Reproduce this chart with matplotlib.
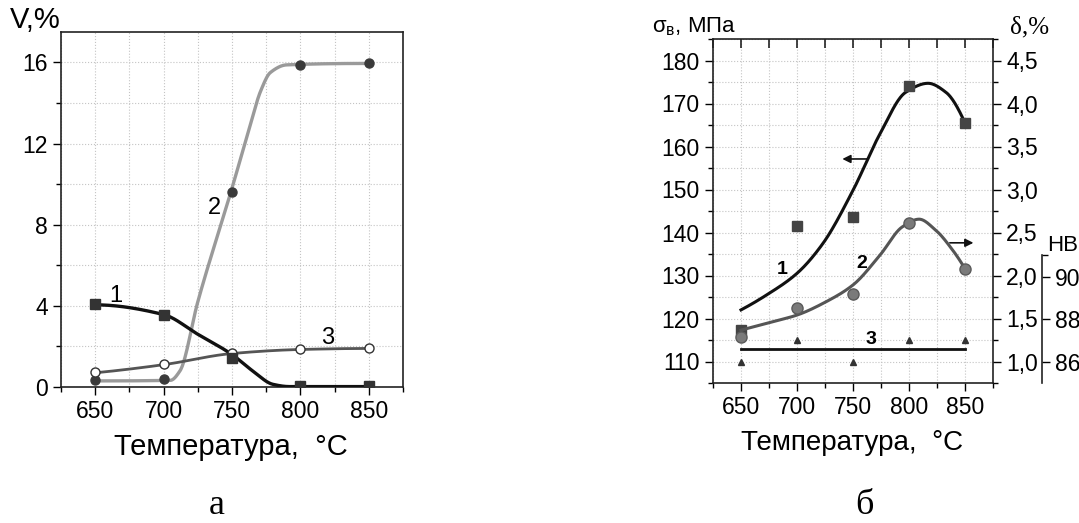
import numpy as np
import matplotlib
matplotlib.use("Agg")
from matplotlib import pyplot as plt
from matplotlib.ticker import MultipleLocator, FuncFormatter

plt.rcParams['font.family'] = ['Liberation Sans', 'DejaVu Sans']

## data
temp = [650, 700, 750, 800, 850]

# panel a: phase volume, %
v1_pts = [4.1, 3.55, 1.45, 0.05, 0.05]
v2_pts = [0.35, 0.4, 9.6, 15.85, 15.95]
v3_pts = [0.75, 1.15, 1.7, 1.85, 1.9]

# drawn curves of panel a (knots)
v1_curve_t = [650, 700, 725, 750, 765, 780, 792, 850]
v1_curve = [4.05, 3.57, 2.6, 1.6, 0.8, 0.13, 0.02, 0.02]
v2_curve_t = [650, 705, 712, 725, 750, 762, 771, 778, 790, 850]
v2_curve = [0.3, 0.33, 0.8, 4.2, 9.8, 12.6, 14.6, 15.5, 15.88, 15.95]
v3_curve_t = [650, 700, 750, 800, 850]
v3_curve = [0.7, 1.1, 1.65, 1.85, 1.9]

# panel b: strength (MPa), elongation (%), hardness HB
sigma_pts = [117.3, 141.5, 143.5, 174.1, 165.4]
delta_pts = [1.29, 1.62, 1.78, 2.605, 2.08]
hb_pts = [86, 87, 86, 87, 87]
hb_line = 86.6

sigma_curve_t = [650, 673, 700, 723, 750, 774, 797, 817, 833, 850]
sigma_curve = [122, 125.5, 130.5, 137.4, 149.8, 162.9, 172.6, 174.7, 172.6, 165.5]
delta_curve_t = [650, 679, 700, 726, 750, 774, 794, 809, 824, 839, 850]
delta_curve = [1.365, 1.465, 1.54, 1.695, 1.89, 2.235, 2.565, 2.655, 2.525, 2.295, 2.08]


def pchip(x, y, xs):
    # monotone cubic hermite, only used to draw the smooth lines
    x = np.asarray(x, float)
    y = np.asarray(y, float)
    h = np.diff(x)
    d = np.diff(y) / h
    m = np.zeros_like(y)
    for k in range(1, len(x) - 1):
        if d[k - 1] * d[k] > 0:
            w1 = 2 * h[k] + h[k - 1]
            w2 = h[k] + 2 * h[k - 1]
            m[k] = (w1 + w2) / (w1 / d[k - 1] + w2 / d[k])
    m[0] = d[0] if len(d) < 2 else ((2 * h[0] + h[1]) * d[0] - h[0] * d[1]) / (h[0] + h[1])
    if np.sign(m[0]) != np.sign(d[0]):
        m[0] = 0
    m[-1] = d[-1] if len(d) < 2 else ((2 * h[-1] + h[-2]) * d[-1] - h[-1] * d[-2]) / (h[-1] + h[-2])
    if np.sign(m[-1]) != np.sign(d[-1]):
        m[-1] = 0
    idx = np.clip(np.searchsorted(x, xs) - 1, 0, len(x) - 2)
    t = (xs - x[idx]) / h[idx]
    h00 = 2 * t**3 - 3 * t**2 + 1
    h10 = t**3 - 2 * t**2 + t
    h01 = -2 * t**3 + 3 * t**2
    h11 = t**3 - t**2
    return h00 * y[idx] + h10 * h[idx] * m[idx] + h01 * y[idx + 1] + h11 * h[idx] * m[idx + 1]


def comma(v, pos):
    return f"{v:.1f}".replace(".", ",")


W, H = 1079, 523
fig = plt.figure(figsize=(W / 100, H / 100), dpi=100)
grid_kw = dict(color='#c4c4c4', linestyle=':', linewidth=0.8)
tick_fs = 16.5

# ---- panel a ----
ax = fig.add_axes([61 / W, 1 - 387 / H, 342 / W, 355 / H])
ax.set_xlim(625, 875)
ax.set_ylim(0, 17.5)
ax.xaxis.set_major_locator(MultipleLocator(50))
ax.xaxis.set_minor_locator(MultipleLocator(25))
ax.yaxis.set_major_locator(MultipleLocator(4))
ax.yaxis.set_minor_locator(MultipleLocator(2))
ax.grid(True, which='both', **grid_kw)
ax.set_axisbelow(True)
ax.tick_params(which='both', direction='out', top=False, right=False, labelsize=tick_fs, width=1)
ax.tick_params(which='major', length=6)
ax.tick_params(which='minor', length=3.5)
for s in ax.spines.values():
    s.set_linewidth(1.2)
    s.set_color('#222222')

xs = np.linspace(650, 850, 400)
ax.plot(xs, pchip(v2_curve_t, v2_curve, xs), color='#9a9a9a', lw=2.4, zorder=3)
ax.plot(xs, pchip(v3_curve_t, v3_curve, xs), color='#555555', lw=2, zorder=3)
ax.plot(xs, pchip(v1_curve_t, v1_curve, xs), color='#111111', lw=2.4, zorder=4)
ax.plot(temp, v2_pts, 'o', color='#3a3a3a', ms=6.5, zorder=5)
ax.plot(temp, v3_pts, 'o', mfc='white', mec='#333333', mew=1, ms=6.5, zorder=5)
ax.plot(temp, v1_pts, 's', color='#333333', ms=6.5, zorder=6)

ax.text(665, 4.5, "1", fontsize=17, ha='center', va='center')
ax.text(737, 8.8, "2", fontsize=17, ha='center', va='center')
ax.text(820, 2.42, "3", fontsize=17, ha='center', va='center')

fig.text(10 / W, 1 - 20 / H, "V,%", fontsize=21, ha='left', va='center')
fig.text(231 / W, 1 - 447 / H, "Температура,  °C", fontsize=21, ha='center', va='center')
fig.text(217 / W, 1 - 506 / H, "а", fontsize=26, ha='center', va='center',
         family=['Liberation Serif', 'DejaVu Serif'])

# ---- panel b ----
bx = fig.add_axes([713 / W, 1 - 383 / H, 280 / W, 344 / H])
bx.set_xlim(625, 875)
bx.set_ylim(105, 185)
bx.xaxis.set_major_locator(MultipleLocator(50))
bx.xaxis.set_minor_locator(MultipleLocator(25))
bx.yaxis.set_major_locator(MultipleLocator(10))
bx.yaxis.set_minor_locator(MultipleLocator(5))
bx.grid(True, which='both', **grid_kw)
bx.set_axisbelow(True)
bx.tick_params(which='both', direction='out', right=False, top=False, labelsize=tick_fs, width=1)
bx.tick_params(which='major', length=6)
bx.tick_params(which='minor', length=3.5)
for s in bx.spines.values():
    s.set_linewidth(1.2)
    s.set_color('#222222')

# top ticks point inward
bt = bx.twiny()
bt.set_xlim(625, 875)
bt.xaxis.set_major_locator(MultipleLocator(50))
bt.xaxis.set_minor_locator(MultipleLocator(25))
bt.tick_params(which='both', direction='in', labeltop=False, width=1.2,
               length=6.5, color='#222222')
for s in bt.spines.values():
    s.set_visible(False)

bd = bx.twinx()
bd.set_ylim(0.75, 4.75)
bd.yaxis.set_major_locator(MultipleLocator(0.5))
bd.yaxis.set_minor_locator(MultipleLocator(0.25))
bd.yaxis.set_major_formatter(FuncFormatter(comma))
bd.tick_params(which='both', direction='out', labelsize=tick_fs, width=1)
bd.tick_params(which='major', length=6)
bd.tick_params(which='minor', length=3.5)
for s in bd.spines.values():
    s.set_visible(False)

bh = bx.twinx()
bh.set_ylim(85, 85 + 344 / 21.25)
bh.spines['right'].set_position(('axes', 1 + 49 / 280))
bh.spines['right'].set_bounds(85, 91)
bh.spines['right'].set_linewidth(1.2)
bh.spines['right'].set_color('#222222')
for k in ('left', 'top', 'bottom'):
    bh.spines[k].set_visible(False)
bh.set_yticks([86, 88, 90])
bh.set_yticks([91], minor=True)
bh.tick_params(which='both', direction='out', labelsize=tick_fs, width=1)
bh.tick_params(which='major', length=6)
bh.tick_params(which='minor', length=4)

xs = np.linspace(650, 850, 400)
bx.plot(xs, pchip(sigma_curve_t, sigma_curve, xs), color='#111111', lw=2.2, zorder=3)
bx.plot(temp, sigma_pts, 's', color='#444444', ms=7, zorder=4)
bd.plot(xs, pchip(delta_curve_t, delta_curve, xs), color='#555555', lw=2.2, zorder=3)
bd.plot(temp, delta_pts, 'o', mfc='#7a7a7a', mec='#5a5a5a', ms=8, zorder=4)
bh.plot([temp[0], temp[-1]], [hb_line, hb_line], color='#111111', lw=2, zorder=3)
bh.plot(temp, hb_pts, '^', color='#333333', ms=4.5, zorder=4)

bx.text(687, 131.3, "1", fontsize=14, fontweight='bold', ha='center', va='center')
bx.text(758, 132.7, "2", fontsize=14, fontweight='bold', ha='center', va='center')
bx.text(766, 115.1, "3", fontsize=14, fontweight='bold', ha='center', va='center')
arrow_kw = dict(arrowstyle='-|>', color='#111111', lw=1.2, mutation_scale=12)
bx.annotate("", xy=(738, 157.1), xytext=(765, 157.1), arrowprops=arrow_kw)
bx.annotate("", xy=(860, 137.6), xytext=(834, 137.6), arrowprops=arrow_kw,
            annotation_clip=False)

fig.text(652 / W, 1 - 27 / H, "σ$_\\mathregular{в}$, МПа", fontsize=16, ha='left', va='center')
fig.text(1010 / W, 1 - 27 / H, "δ,%", fontsize=18, ha='left', va='center',
         family=['Liberation Serif', 'DejaVu Serif'])
fig.text(1063 / W, 1 - 245 / H, "HB", fontsize=16, ha='center', va='center')
fig.text(852 / W, 1 - 443 / H, "Температура,  °C", fontsize=20, ha='center', va='center')
fig.text(864 / W, 1 - 506 / H, "б", fontsize=26, ha='center', va='center',
         family=['Liberation Serif', 'DejaVu Serif'])

fig.savefig("out.png", dpi=100, facecolor='white')
